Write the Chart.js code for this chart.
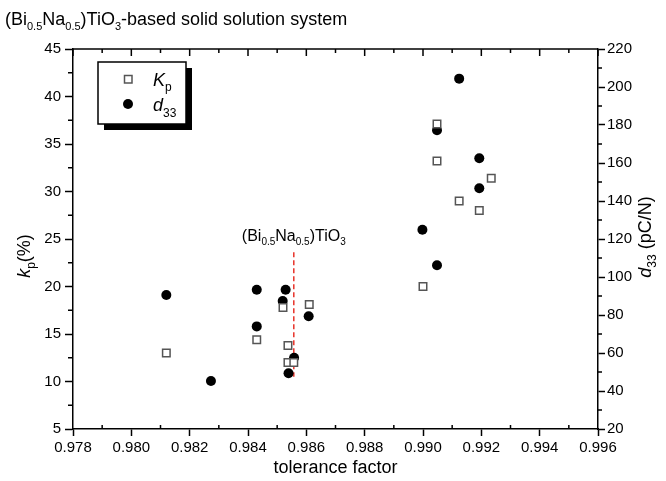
<!DOCTYPE html>
<html>
<head>
<meta charset="utf-8">
<script src="https://cdn.jsdelivr.net/npm/chart.js"></script>
<style>
  html, body { margin: 0; padding: 0; background: #fff; }
</style>
</head>
<body>
<canvas id="myChart" width="666" height="481"></canvas>
<script>
// kp (%) vs tolerance factor
const kpTolerance = [0.9812, 0.9843, 0.9852, 0.9861, 0.98537, 0.98537, 0.98557, 0.9900, 0.99048, 0.99048, 0.99124, 0.99193, 0.99234];
const kpValues    = [13.0,   14.4,   17.8,   18.1,   13.8,    12.0,    12.0,    20.0,   37.1,    33.2,    29.0,    28.0,    31.4];

// d33 (pC/N) vs tolerance factor
const d33Tolerance = [0.9812, 0.9843, 0.98529, 0.98519, 0.98608, 0.9843, 0.98558, 0.98539, 0.98273, 0.99124, 0.99048, 0.99193, 0.99193, 0.98998, 0.99048];
const d33Values    = [90.5,   93.3,   93.3,    87.4,    79.3,    74.0,   57.5,    49.3,    45.3,    204.4,   177.2,   162.5,   146.7,   124.9,   106.2];

// BNT marker line
const bntTolerance = [0.98557, 0.98557];
const bntKp = [23.6, 10.5];

const FONT = '"Liberation Sans", Arial, sans-serif';

// text with subscripts: [text, size, italic, dy]
function drawRich(ctx, parts, x, y, align) {
    let total = 0;
    parts.forEach(p => {
        ctx.font = (p[2] ? 'italic ' : '') + p[1] + 'px ' + FONT;
        total += ctx.measureText(p[0]).width;
    });
    let cx = align === 'center' ? x - total / 2 : x;
    parts.forEach(p => {
        ctx.font = (p[2] ? 'italic ' : '') + p[1] + 'px ' + FONT;
        ctx.fillText(p[0], cx, y + (p[3] || 0));
        cx += ctx.measureText(p[0]).width;
    });
}

const decorPlugin = {
    id: 'decor',
    afterDraw(chart) {
        const ctx = chart.ctx;
        const a = chart.chartArea;
        const sx = chart.scales.x, sy = chart.scales.y, sy2 = chart.scales.y2;
        ctx.save();
        ctx.strokeStyle = '#000';
        ctx.lineWidth = 1.5;

        // top frame
        ctx.beginPath();
        ctx.moveTo(a.left, a.top);
        ctx.lineTo(a.right, a.top);
        ctx.stroke();

        ctx.beginPath();
        // x: minor ticks bottom (inward), all ticks top (inward)
        for (let i = 0; i <= 18; i++) {
            const px = sx.getPixelForValue(0.978 + i * 0.001);
            const major = i % 2 === 0;
            if (!major) {
                ctx.moveTo(px, a.bottom);
                ctx.lineTo(px, a.bottom - 4);
            }
            ctx.moveTo(px, a.top);
            ctx.lineTo(px, a.top + (major ? 7 : 4));
        }
        // left minor
        for (let v = 7.5; v < 45; v += 5) {
            const py = sy.getPixelForValue(v);
            ctx.moveTo(a.left, py);
            ctx.lineTo(a.left - 5, py);
        }
        // right minor
        for (let v = 30; v < 220; v += 20) {
            const py = sy2.getPixelForValue(v);
            ctx.moveTo(a.right, py);
            ctx.lineTo(a.right + 4, py);
        }
        ctx.stroke();

        ctx.fillStyle = '#000';
        ctx.textBaseline = 'alphabetic';

        // title
        drawRich(ctx, [['(Bi', 18], ['0.5', 11, false, 5], ['Na', 18], ['0.5', 11, false, 5],
            [')TiO', 18], ['3', 11, false, 5], ['-based solid solution system', 18]], 5, 25, 'left');

        // x title
        drawRich(ctx, [['tolerance factor', 18]], (a.left + a.right) / 2, 473, 'center');

        // left y title
        ctx.save();
        ctx.translate(30, 256);
        ctx.rotate(-Math.PI / 2);
        drawRich(ctx, [['k', 18, true], ['p', 12, false, 5], ['(%)', 18]], 0, 0, 'center');
        ctx.restore();

        // right y title
        ctx.save();
        ctx.translate(651, 237);
        ctx.rotate(-Math.PI / 2);
        drawRich(ctx, [['d', 18, true], ['33', 12, false, 5], [' (pC/N)', 18]], 0, 0, 'center');
        ctx.restore();

        // BNT label
        const bx = sx.getPixelForValue(bntTolerance[0]);
        drawRich(ctx, [['(Bi', 16], ['0.5', 10, false, 4], ['Na', 16], ['0.5', 10, false, 4],
            [')TiO', 16], ['3', 10, false, 4]], bx, 241, 'center');

        // legend box with shadow
        ctx.fillStyle = '#000';
        ctx.fillRect(104, 68, 88, 62);
        ctx.fillStyle = '#fff';
        ctx.fillRect(98, 62, 88, 62);
        ctx.lineWidth = 1.5;
        ctx.strokeRect(98, 62, 88, 62);

        ctx.lineWidth = 1.5;
        ctx.strokeStyle = '#555';
        ctx.fillStyle = '#fff';
        ctx.fillRect(124.5, 75.5, 7.5, 7.5);
        ctx.strokeRect(124.5, 75.5, 7.5, 7.5);
        ctx.fillStyle = '#000';
        ctx.beginPath();
        ctx.arc(128, 104, 5, 0, Math.PI * 2);
        ctx.fill();

        drawRich(ctx, [['K', 18, true], ['p', 12, false, 5]], 153, 86, 'left');
        drawRich(ctx, [['d', 18, true], ['33', 12, false, 6]], 153, 111, 'left');

        ctx.restore();
    }
};

const ctx = document.getElementById('myChart').getContext('2d');
const myChart = new Chart(ctx, {
    type: 'scatter',
    data: {
        datasets: [
            {
                label: 'Kp',
                data: kpTolerance.map((t, i) => ({ x: t, y: kpValues[i] })),
                yAxisID: 'y',
                pointStyle: 'rect',
                pointRadius: 5.3,
                pointBackgroundColor: '#fff',
                pointBorderColor: '#555',
                pointBorderWidth: 1.5,
                order: 0
            },
            {
                label: 'd33',
                data: d33Tolerance.map((t, i) => ({ x: t, y: d33Values[i] })),
                yAxisID: 'y2',
                pointStyle: 'circle',
                pointRadius: 5,
                pointBackgroundColor: '#000',
                pointBorderColor: '#000',
                pointBorderWidth: 0,
                order: 1
            },
            {
                type: 'line',
                label: 'BNT',
                data: bntTolerance.map((t, i) => ({ x: t, y: bntKp[i] })),
                yAxisID: 'y',
                borderColor: '#e8332a',
                borderWidth: 1.5,
                borderDash: [5, 3],
                pointRadius: 0,
                order: 2
            }
        ]
    },
    options: {
        responsive: false,
        animation: false,
        layout: { padding: { top: 49, left: 0, right: 0, bottom: 0 } },
        plugins: {
            legend: { display: false },
            tooltip: { enabled: false }
        },
        scales: {
            x: {
                type: 'linear',
                min: 0.978,
                max: 0.996,
                afterFit(s) { s.height = 52; },
                border: { color: '#000', width: 1.5 },
                grid: { drawOnChartArea: false, tickLength: 7, tickColor: '#000', tickWidth: 1.5 },
                ticks: {
                    stepSize: 0.002,
                    color: '#000',
                    padding: 3,
                    maxRotation: 0,
                    font: { family: FONT, size: 15 },
                    callback: v => v.toFixed(3)
                }
            },
            y: {
                position: 'left',
                min: 5,
                max: 45,
                afterFit(s) { s.width = 73; },
                border: { color: '#000', width: 1.5 },
                grid: { drawOnChartArea: false, tickLength: 8, tickColor: '#000', tickWidth: 1.5 },
                ticks: {
                    stepSize: 5,
                    color: '#000',
                    padding: 4,
                    font: { family: FONT, size: 15 }
                }
            },
            y2: {
                position: 'right',
                min: 20,
                max: 220,
                afterFit(s) { s.width = 68; },
                border: { color: '#000', width: 1.5 },
                grid: { drawOnChartArea: false, tickLength: 7, tickColor: '#000', tickWidth: 1.5 },
                ticks: {
                    stepSize: 20,
                    color: '#000',
                    padding: 2,
                    font: { family: FONT, size: 15 }
                }
            }
        }
    },
    plugins: [decorPlugin]
});
</script>
</body>
</html>
